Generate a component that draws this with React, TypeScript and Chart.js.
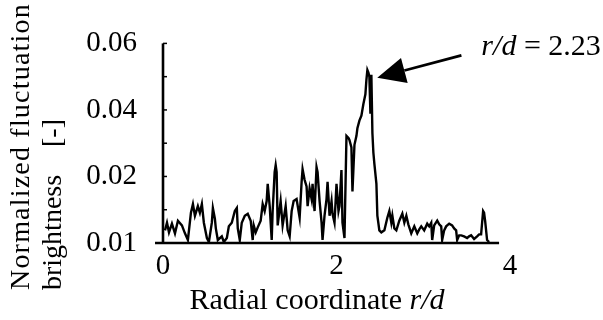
import { useEffect, useRef } from "react";
import { Chart, registerables } from "chart.js";

Chart.register(...registerables);

// Radial coordinate r/d (x) and normalized fluctuation brightness (y)
const rValues = [
  0.023, 0.046, 0.069, 0.103, 0.138, 0.172, 0.218, 0.253, 0.287, 0.322,
  0.345, 0.368, 0.402, 0.425, 0.448, 0.471, 0.506, 0.529, 0.563, 0.575,
  0.598, 0.609, 0.632, 0.678, 0.701, 0.736, 0.759, 0.793, 0.828, 0.851,
  0.862, 0.885, 0.908, 0.943, 0.977, 1.011, 1.034, 1.046, 1.069, 1.092,
  1.126, 1.149, 1.172, 1.195, 1.207, 1.23, 1.253, 1.264, 1.287, 1.299,
  1.31, 1.322, 1.356, 1.379, 1.414, 1.437, 1.46, 1.483, 1.506, 1.54,
  1.575, 1.598, 1.609, 1.632, 1.655, 1.667, 1.69, 1.713, 1.724, 1.747,
  1.77, 1.782, 1.805, 1.828, 1.839, 1.862, 1.885, 1.897, 1.92, 1.943,
  1.954, 1.977, 2.0, 2.023, 2.034, 2.057, 2.069, 2.092, 2.115, 2.138,
  2.149, 2.172, 2.184, 2.207, 2.23, 2.241, 2.264, 2.287, 2.31, 2.333,
  2.345, 2.356, 2.368, 2.379, 2.391, 2.402, 2.414, 2.425, 2.437, 2.46,
  2.471, 2.494, 2.517, 2.552, 2.586, 2.609, 2.632, 2.644, 2.667, 2.69,
  2.724, 2.759, 2.782, 2.805, 2.828, 2.862, 2.897, 2.931, 2.954, 2.977,
  3.011, 3.046, 3.069, 3.092, 3.103, 3.126, 3.161, 3.184, 3.207, 3.218,
  3.241, 3.264, 3.299, 3.333, 3.356, 3.379, 3.391, 3.414, 3.437, 3.471,
  3.506, 3.529, 3.552, 3.586, 3.621, 3.644, 3.667, 3.69, 3.701, 3.713,
  3.736, 3.759,
];

const brightness = [
  0.0038, 0.0061, 0.0032, 0.0058, 0.0029, 0.0067, 0.0053, 0.0029, 0.0009, 0.0091,
  0.0117, 0.0082, 0.0111, 0.0091, 0.0117, 0.0061, 0.0015, 0.0003, 0.0061, 0.0105,
  0.0073, 0.0044, 0.0009, 0.002, 0.0003, 0.0015, 0.005, 0.0061, 0.0096, 0.0105,
  0.0044, 0.0009, 0.0061, 0.0082, 0.0088, 0.0067, 0.0009, 0.0053, 0.0032, 0.0047,
  0.0067, 0.0117, 0.0096, 0.0126, 0.0178, 0.0111, 0.0009, 0.0096, 0.0213, 0.0234,
  0.0213, 0.0053, 0.0126, 0.0053, 0.0111, 0.0038, 0.002, 0.0096, 0.0126, 0.0132,
  0.0076, 0.0184, 0.0222, 0.019, 0.017, 0.0111, 0.0164, 0.0132, 0.0178, 0.0096,
  0.0228, 0.0213, 0.0126, 0.0061, 0.0009, 0.0082, 0.0132, 0.0184, 0.0082, 0.0126,
  0.0088, 0.0061, 0.0178, 0.0096, 0.0111, 0.0219, 0.0061, 0.0015, 0.0322, 0.0316,
  0.031, 0.0287, 0.0155, 0.0295, 0.0322, 0.0345, 0.0368, 0.0383, 0.0418, 0.0447,
  0.0491, 0.052, 0.0512, 0.05, 0.0389, 0.0506, 0.033, 0.0272, 0.0237, 0.0178,
  0.0082, 0.0038, 0.0032, 0.0038, 0.0076, 0.0096, 0.0061, 0.0082, 0.0044, 0.0038,
  0.0067, 0.0088, 0.0061, 0.0082, 0.0056, 0.0029, 0.005, 0.0029, 0.0041, 0.005,
  0.0038, 0.0058, 0.005, 0.0061, 0.0009, 0.0053, 0.0067, 0.0056, 0.005, 0.0009,
  0.0038, 0.005, 0.0058, 0.0053, 0.0044, 0.0038, 0.0009, 0.0023, 0.0023, 0.002,
  0.0015, 0.002, 0.0023, 0.0012, 0.002, 0.0026, 0.0026, 0.0096, 0.0091, 0.0067,
  0.0009, 0.0003,
];

const xTickValues = [0, 2, 4];
const xTickLabels = ["0", "2", "4"];
const yLabelledTicks = [0, 0.02, 0.04, 0.06];
const yTickLabels = ["0.01", "0.02", "0.04", "0.06"];
const yMinorTicks = [0.01, 0.02, 0.03, 0.04, 0.05, 0.06];

const xTitleParts = ["Radial coordinate ", "r/d"];
const yTitleLine1 = "Normalized fluctuation";
const yTitleLine2 = ["brightness", "[-]"];
const noteParts = ["r/d", " = 2.23"];

// annotation anchors in data coordinates
const arrowTip = { x: 2.47, y: 0.0497 };
const arrowTail = { x: 3.44, y: 0.0564 };
const noteAt = { x: 3.67, y: 0.0564 };
const xAxisLineRange = [-0.092, 3.874];

const FONT = '"Liberation Serif", "Times New Roman", serif';

const decorPlugin = {
  id: "decor",
  afterDraw(chart: any) {
    const ctx = chart.ctx as CanvasRenderingContext2D;
    const xs = chart.scales.x;
    const ys = chart.scales.y;
    const area = chart.chartArea;
    ctx.save();
    ctx.strokeStyle = "#000";
    ctx.fillStyle = "#000";

    // axes
    ctx.lineWidth = 2.6;
    ctx.beginPath();
    ctx.moveTo(area.left, ys.getPixelForValue(0.06));
    ctx.lineTo(area.left, area.bottom);
    ctx.stroke();
    ctx.beginPath();
    ctx.moveTo(xs.getPixelForValue(xAxisLineRange[0]), area.bottom);
    ctx.lineTo(xs.getPixelForValue(xAxisLineRange[1]), area.bottom);
    ctx.stroke();

    // inner tick marks on y axis
    ctx.lineWidth = 1.5;
    for (const v of yMinorTicks) {
      const py = ys.getPixelForValue(v);
      ctx.beginPath();
      ctx.moveTo(area.left, py);
      ctx.lineTo(area.left + 4, py);
      ctx.stroke();
    }

    // arrow
    const tx = xs.getPixelForValue(arrowTip.x);
    const ty = ys.getPixelForValue(arrowTip.y);
    const sx = xs.getPixelForValue(arrowTail.x);
    const sy = ys.getPixelForValue(arrowTail.y);
    const len = Math.hypot(sx - tx, sy - ty);
    const ux = (sx - tx) / len;
    const uy = (sy - ty) / len;
    const headLen = 28;
    const headHalf = 13;
    const bx = tx + ux * headLen;
    const by = ty + uy * headLen;
    ctx.lineWidth = 2.8;
    ctx.beginPath();
    ctx.moveTo(sx, sy);
    ctx.lineTo(bx, by);
    ctx.stroke();
    ctx.beginPath();
    ctx.moveTo(tx, ty);
    ctx.lineTo(bx - uy * headHalf, by + ux * headHalf);
    ctx.lineTo(bx + uy * headHalf, by - ux * headHalf);
    ctx.closePath();
    ctx.fill();

    // note text
    ctx.textBaseline = "alphabetic";
    ctx.textAlign = "left";
    let nx = xs.getPixelForValue(noteAt.x);
    const ny = ys.getPixelForValue(noteAt.y);
    ctx.font = `italic 30px ${FONT}`;
    ctx.fillText(noteParts[0], nx, ny);
    nx += ctx.measureText(noteParts[0]).width;
    ctx.font = `30px ${FONT}`;
    ctx.fillText(noteParts[1], nx, ny);

    // x title
    ctx.font = `30px ${FONT}`;
    const w1 = ctx.measureText(xTitleParts[0]).width;
    ctx.font = `italic 30px ${FONT}`;
    const w2 = ctx.measureText(xTitleParts[1]).width;
    const startX = 317 - (w1 + w2) / 2;
    ctx.font = `30px ${FONT}`;
    ctx.fillText(xTitleParts[0], startX, 309);
    ctx.font = `italic 30px ${FONT}`;
    ctx.fillText(xTitleParts[1], startX + w1, 309);

    // y title (rotated)
    ctx.font = `28px ${FONT}`;
    ctx.save();
    ctx.translate(29, 290);
    ctx.rotate(-Math.PI / 2);
    (ctx as any).letterSpacing = "1.2px";
    ctx.fillText(yTitleLine1, 0, 0);
    ctx.restore();
    ctx.save();
    ctx.translate(61, 290);
    ctx.rotate(-Math.PI / 2);
    ctx.fillText(yTitleLine2[0], 0, 0);
    ctx.restore();
    ctx.save();
    ctx.translate(61, 147);
    ctx.rotate(-Math.PI / 2);
    ctx.fillText(yTitleLine2[1], 0, 0);
    ctx.restore();

    ctx.restore();
  },
};

export default function App() {
  const canvasRef = useRef<HTMLCanvasElement | null>(null);

  useEffect(() => {
    document.body.style.margin = "0";
    const canvas = canvasRef.current;
    if (!canvas) return;
    const chart = new Chart(canvas, {
      type: "line",
      data: {
        datasets: [
          {
            data: rValues.map((r, i) => ({ x: r, y: brightness[i] })),
            borderColor: "#000",
            borderWidth: 2.4,
            pointRadius: 0,
            tension: 0,
            fill: false,
          },
        ],
      },
      options: {
        responsive: false,
        animation: false,
        devicePixelRatio: 1,
        layout: { padding: { top: 38, right: 93, bottom: 0, left: 0 } },
        plugins: { legend: { display: false }, tooltip: { enabled: false } },
        scales: {
          x: {
            type: "linear",
            min: 0,
            max: 4,
            afterBuildTicks: (s: any) => {
              s.ticks = xTickValues.map((v) => ({ value: v }));
            },
            afterFit: (s: any) => {
              s.height = 77;
            },
            grid: { display: false, drawTicks: false },
            border: { display: false },
            ticks: {
              color: "#000",
              font: { family: FONT, size: 29 },
              padding: 6,
              maxRotation: 0,
              autoSkip: false,
              callback: (_v: any, i: number) => xTickLabels[i],
            },
          },
          y: {
            type: "linear",
            min: 0,
            max: 0.06,
            afterBuildTicks: (s: any) => {
              s.ticks = yLabelledTicks.map((v) => ({ value: v }));
            },
            afterFit: (s: any) => {
              s.width = 163;
            },
            grid: { display: false, drawTicks: false },
            border: { display: false },
            ticks: {
              color: "#000",
              font: { family: FONT, size: 29 },
              padding: 26,
              autoSkip: false,
              callback: (_v: any, i: number) => yTickLabels[i],
            },
          },
        },
      },
      plugins: [decorPlugin],
    } as any);
    return () => chart.destroy();
  }, []);

  return (
    <div style={{ width: 603, height: 320, background: "#fff" }}>
      <canvas ref={canvasRef} width={603} height={320} style={{ display: "block" }} />
    </div>
  );
}
